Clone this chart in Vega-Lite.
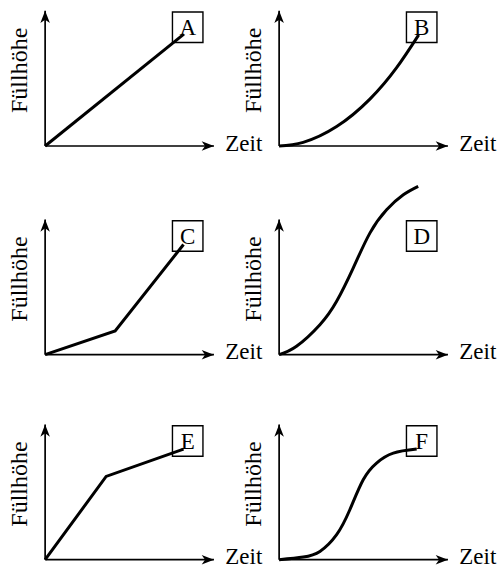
{
  "$schema": "https://vega.github.io/schema/vega-lite/v6.json",
  "padding": 0,
  "config": {"view": {"stroke": null}, "text": {"font": "Liberation Serif", "fontSize": 23, "color": "black"}},
  "datasets": {"all": [
    {"panel": "A", "kind": "axis", "axis": "Zeit", "x": 0, "y": 0, "x2": 10.1, "y2": 0},
    {"panel": "A", "kind": "axis", "axis": "Füllhöhe", "x": 0, "y": 0, "x2": 0, "y2": 10.1},
    {"panel": "B", "kind": "axis", "axis": "Zeit", "x": 0, "y": 0, "x2": 10.1, "y2": 0},
    {"panel": "B", "kind": "axis", "axis": "Füllhöhe", "x": 0, "y": 0, "x2": 0, "y2": 10.1},
    {"panel": "C", "kind": "axis", "axis": "Zeit", "x": 0, "y": 0, "x2": 10.1, "y2": 0},
    {"panel": "C", "kind": "axis", "axis": "Füllhöhe", "x": 0, "y": 0, "x2": 0, "y2": 10.1},
    {"panel": "D", "kind": "axis", "axis": "Zeit", "x": 0, "y": 0, "x2": 10.1, "y2": 0},
    {"panel": "D", "kind": "axis", "axis": "Füllhöhe", "x": 0, "y": 0, "x2": 0, "y2": 10.1},
    {"panel": "E", "kind": "axis", "axis": "Zeit", "x": 0, "y": 0, "x2": 10.1, "y2": 0},
    {"panel": "E", "kind": "axis", "axis": "Füllhöhe", "x": 0, "y": 0, "x2": 0, "y2": 10.1},
    {"panel": "F", "kind": "axis", "axis": "Zeit", "x": 0, "y": 0, "x2": 10.1, "y2": 0},
    {"panel": "F", "kind": "axis", "axis": "Füllhöhe", "x": 0, "y": 0, "x2": 0, "y2": 10.1},
    {"panel": "A", "kind": "xlab", "x": 10.78, "y": -0.35, "label": "Zeit"},
    {"panel": "B", "kind": "xlab", "x": 10.78, "y": -0.35, "label": "Zeit"},
    {"panel": "C", "kind": "xlab", "x": 10.78, "y": -0.35, "label": "Zeit"},
    {"panel": "D", "kind": "xlab", "x": 10.78, "y": -0.35, "label": "Zeit"},
    {"panel": "E", "kind": "xlab", "x": 10.78, "y": -0.35, "label": "Zeit"},
    {"panel": "F", "kind": "xlab", "x": 10.78, "y": -0.35, "label": "Zeit"},
    {"panel": "A", "kind": "ylab", "x": -1.1, "y": 5.65, "label": "Füllhöhe"},
    {"panel": "B", "kind": "ylab", "x": -1.1, "y": 5.65, "label": "Füllhöhe"},
    {"panel": "C", "kind": "ylab", "x": -1.1, "y": 5.65, "label": "Füllhöhe"},
    {"panel": "D", "kind": "ylab", "x": -1.1, "y": 5.65, "label": "Füllhöhe"},
    {"panel": "E", "kind": "ylab", "x": -1.1, "y": 5.65, "label": "Füllhöhe"},
    {"panel": "F", "kind": "ylab", "x": -1.1, "y": 5.65, "label": "Füllhöhe"},
    {"panel": "A", "kind": "box", "x": 8.53, "y": 8.87, "label": "A"},
    {"panel": "B", "kind": "box", "x": 8.53, "y": 8.87, "label": "B"},
    {"panel": "C", "kind": "box", "x": 8.53, "y": 8.87, "label": "C"},
    {"panel": "D", "kind": "box", "x": 8.53, "y": 8.87, "label": "D"},
    {"panel": "E", "kind": "box", "x": 8.53, "y": 8.87, "label": "E"},
    {"panel": "F", "kind": "box", "x": 8.53, "y": 8.87, "label": "F"},
    {"panel": "A", "kind": "curve", "i": 0, "x": 0, "y": 0},
    {"panel": "A", "kind": "curve", "i": 1, "x": 8.3, "y": 8.35},
    {"panel": "B", "kind": "curve", "i": 0, "x": 0, "y": 0},
    {"panel": "B", "kind": "curve", "i": 1, "x": 1.44, "y": 0.27},
    {"panel": "B", "kind": "curve", "i": 2, "x": 3.44, "y": 1.45},
    {"panel": "B", "kind": "curve", "i": 3, "x": 5.43, "y": 3.5},
    {"panel": "B", "kind": "curve", "i": 4, "x": 7.03, "y": 5.85},
    {"panel": "B", "kind": "curve", "i": 5, "x": 8.35, "y": 8.3},
    {"panel": "C", "kind": "curve", "i": 0, "x": 0, "y": 0},
    {"panel": "C", "kind": "curve", "i": 1, "x": 4.19, "y": 1.77},
    {"panel": "C", "kind": "curve", "i": 2, "x": 8.28, "y": 8.23},
    {"panel": "D", "kind": "curve", "i": 0, "x": 0, "y": 0},
    {"panel": "D", "kind": "curve", "i": 1, "x": 1.04, "y": 0.63},
    {"panel": "D", "kind": "curve", "i": 2, "x": 2.44, "y": 2.24},
    {"panel": "D", "kind": "curve", "i": 3, "x": 3.44, "y": 3.99},
    {"panel": "D", "kind": "curve", "i": 4, "x": 4.43, "y": 6.47},
    {"panel": "D", "kind": "curve", "i": 5, "x": 5.43, "y": 9.08},
    {"panel": "D", "kind": "curve", "i": 6, "x": 6.43, "y": 10.82},
    {"panel": "D", "kind": "curve", "i": 7, "x": 7.43, "y": 11.94},
    {"panel": "D", "kind": "curve", "i": 8, "x": 8.32, "y": 12.57},
    {"panel": "E", "kind": "curve", "i": 0, "x": 0, "y": 0},
    {"panel": "E", "kind": "curve", "i": 1, "x": 3.65, "y": 6.22},
    {"panel": "E", "kind": "curve", "i": 2, "x": 8.28, "y": 8.26},
    {"panel": "F", "kind": "curve", "i": 0, "x": 0, "y": 0},
    {"panel": "F", "kind": "curve", "i": 1, "x": 1.44, "y": 0.2},
    {"panel": "F", "kind": "curve", "i": 2, "x": 2.44, "y": 0.62},
    {"panel": "F", "kind": "curve", "i": 3, "x": 3.44, "y": 1.87},
    {"panel": "F", "kind": "curve", "i": 4, "x": 4.23, "y": 3.73},
    {"panel": "F", "kind": "curve", "i": 5, "x": 5.03, "y": 5.97},
    {"panel": "F", "kind": "curve", "i": 6, "x": 5.83, "y": 7.22},
    {"panel": "F", "kind": "curve", "i": 7, "x": 6.83, "y": 7.96},
    {"panel": "F", "kind": "curve", "i": 8, "x": 8.23, "y": 8.26}
  ]},
  "data": {"name": "all"},
  "spacing": 0,
  "vconcat": [
    {"hconcat": [
      {"width": 234, "height": 180, "transform": [{"filter": "datum.panel === 'A'"}],
       "encoding": {"x": {"field": "x", "type": "quantitative", "scale": {"domain": [-2.7, 11.3], "nice": false, "zero": false}, "axis": null}, "y": {"field": "y", "type": "quantitative", "scale": {"domain": [-2.539, 10.904], "nice": false, "zero": false}, "axis": null}},
       "layer": [
        {"transform": [{"filter": "datum.kind === 'axis'"}], "mark": {"type": "rule", "color": "black", "strokeWidth": 1.7}, "encoding": {"x2": {"field": "x2"}, "y2": {"field": "y2"}}},
        {"transform": [{"filter": "datum.kind === 'axis'"}], "mark": {"type": "point", "filled": true, "fill": "black", "strokeWidth": 0, "opacity": 1, "size": 150}, "encoding": {"x": {"field": "x2", "type": "quantitative"}, "y": {"field": "y2", "type": "quantitative"}, "shape": {"field": "axis", "type": "nominal", "legend": null, "scale": {"domain": ["Zeit", "Füllhöhe"], "range": ["M0,0 L-2,-0.78 L-1.45,0 L-2,0.78 Z", "M0,0 L-0.78,2 L0,1.45 L0.78,2 Z"]}}}},
        {"transform": [{"filter": "datum.kind === 'curve'"}], "mark": {"type": "line", "color": "black", "strokeWidth": 3, "interpolate": "linear"}, "encoding": {"order": {"field": "i", "type": "quantitative"}}},
        {"transform": [{"filter": "datum.kind === 'box'"}], "mark": {"type": "point", "shape": "square", "filled": false, "stroke": "black", "strokeWidth": 1.4, "opacity": 1, "size": 930}},
        {"transform": [{"filter": "datum.kind === 'box'"}], "mark": {"type": "text", "align": "center", "baseline": "middle", "dy": 1}, "encoding": {"text": {"field": "label"}}},
        {"transform": [{"filter": "datum.kind === 'xlab'"}], "mark": {"type": "text", "align": "left", "baseline": "alphabetic"}, "encoding": {"text": {"field": "label"}}},
        {"transform": [{"filter": "datum.kind === 'ylab'"}], "mark": {"type": "text", "align": "center", "baseline": "alphabetic", "angle": 270, "fontSize": 24}, "encoding": {"text": {"field": "label"}}}
       ]},
      {"width": 234, "height": 180, "transform": [{"filter": "datum.panel === 'B'"}],
       "encoding": {"x": {"field": "x", "type": "quantitative", "scale": {"domain": [-2.7, 11.3], "nice": false, "zero": false}, "axis": null}, "y": {"field": "y", "type": "quantitative", "scale": {"domain": [-2.539, 10.904], "nice": false, "zero": false}, "axis": null}},
       "layer": [
        {"transform": [{"filter": "datum.kind === 'axis'"}], "mark": {"type": "rule", "color": "black", "strokeWidth": 1.7}, "encoding": {"x2": {"field": "x2"}, "y2": {"field": "y2"}}},
        {"transform": [{"filter": "datum.kind === 'axis'"}], "mark": {"type": "point", "filled": true, "fill": "black", "strokeWidth": 0, "opacity": 1, "size": 150}, "encoding": {"x": {"field": "x2", "type": "quantitative"}, "y": {"field": "y2", "type": "quantitative"}, "shape": {"field": "axis", "type": "nominal", "legend": null, "scale": {"domain": ["Zeit", "Füllhöhe"], "range": ["M0,0 L-2,-0.78 L-1.45,0 L-2,0.78 Z", "M0,0 L-0.78,2 L0,1.45 L0.78,2 Z"]}}}},
        {"transform": [{"filter": "datum.kind === 'curve'"}], "mark": {"type": "line", "color": "black", "strokeWidth": 3, "interpolate": "natural"}, "encoding": {"order": {"field": "i", "type": "quantitative"}}},
        {"transform": [{"filter": "datum.kind === 'box'"}], "mark": {"type": "point", "shape": "square", "filled": false, "stroke": "black", "strokeWidth": 1.4, "opacity": 1, "size": 930}},
        {"transform": [{"filter": "datum.kind === 'box'"}], "mark": {"type": "text", "align": "center", "baseline": "middle", "dy": 1}, "encoding": {"text": {"field": "label"}}},
        {"transform": [{"filter": "datum.kind === 'xlab'"}], "mark": {"type": "text", "align": "left", "baseline": "alphabetic"}, "encoding": {"text": {"field": "label"}}},
        {"transform": [{"filter": "datum.kind === 'ylab'"}], "mark": {"type": "text", "align": "center", "baseline": "alphabetic", "angle": 270, "fontSize": 24}, "encoding": {"text": {"field": "label"}}}
       ]}
    ], "spacing": 0, "bounds": "flush"},
    {"hconcat": [
      {"width": 234, "height": 231, "transform": [{"filter": "datum.panel === 'C'"}],
       "encoding": {"x": {"field": "x", "type": "quantitative", "scale": {"domain": [-2.7, 11.3], "nice": false, "zero": false}, "axis": null}, "y": {"field": "y", "type": "quantitative", "scale": {"domain": [-4.429, 12.823], "nice": false, "zero": false}, "axis": null}},
       "layer": [
        {"transform": [{"filter": "datum.kind === 'axis'"}], "mark": {"type": "rule", "color": "black", "strokeWidth": 1.7}, "encoding": {"x2": {"field": "x2"}, "y2": {"field": "y2"}}},
        {"transform": [{"filter": "datum.kind === 'axis'"}], "mark": {"type": "point", "filled": true, "fill": "black", "strokeWidth": 0, "opacity": 1, "size": 150}, "encoding": {"x": {"field": "x2", "type": "quantitative"}, "y": {"field": "y2", "type": "quantitative"}, "shape": {"field": "axis", "type": "nominal", "legend": null, "scale": {"domain": ["Zeit", "Füllhöhe"], "range": ["M0,0 L-2,-0.78 L-1.45,0 L-2,0.78 Z", "M0,0 L-0.78,2 L0,1.45 L0.78,2 Z"]}}}},
        {"transform": [{"filter": "datum.kind === 'curve'"}], "mark": {"type": "line", "color": "black", "strokeWidth": 3, "interpolate": "linear"}, "encoding": {"order": {"field": "i", "type": "quantitative"}}},
        {"transform": [{"filter": "datum.kind === 'box'"}], "mark": {"type": "point", "shape": "square", "filled": false, "stroke": "black", "strokeWidth": 1.4, "opacity": 1, "size": 930}},
        {"transform": [{"filter": "datum.kind === 'box'"}], "mark": {"type": "text", "align": "center", "baseline": "middle", "dy": 1}, "encoding": {"text": {"field": "label"}}},
        {"transform": [{"filter": "datum.kind === 'xlab'"}], "mark": {"type": "text", "align": "left", "baseline": "alphabetic"}, "encoding": {"text": {"field": "label"}}},
        {"transform": [{"filter": "datum.kind === 'ylab'"}], "mark": {"type": "text", "align": "center", "baseline": "alphabetic", "angle": 270, "fontSize": 24}, "encoding": {"text": {"field": "label"}}}
       ]},
      {"width": 234, "height": 231, "transform": [{"filter": "datum.panel === 'D'"}],
       "encoding": {"x": {"field": "x", "type": "quantitative", "scale": {"domain": [-2.7, 11.3], "nice": false, "zero": false}, "axis": null}, "y": {"field": "y", "type": "quantitative", "scale": {"domain": [-4.429, 12.823], "nice": false, "zero": false}, "axis": null}},
       "layer": [
        {"transform": [{"filter": "datum.kind === 'axis'"}], "mark": {"type": "rule", "color": "black", "strokeWidth": 1.7}, "encoding": {"x2": {"field": "x2"}, "y2": {"field": "y2"}}},
        {"transform": [{"filter": "datum.kind === 'axis'"}], "mark": {"type": "point", "filled": true, "fill": "black", "strokeWidth": 0, "opacity": 1, "size": 150}, "encoding": {"x": {"field": "x2", "type": "quantitative"}, "y": {"field": "y2", "type": "quantitative"}, "shape": {"field": "axis", "type": "nominal", "legend": null, "scale": {"domain": ["Zeit", "Füllhöhe"], "range": ["M0,0 L-2,-0.78 L-1.45,0 L-2,0.78 Z", "M0,0 L-0.78,2 L0,1.45 L0.78,2 Z"]}}}},
        {"transform": [{"filter": "datum.kind === 'curve'"}], "mark": {"type": "line", "color": "black", "strokeWidth": 3, "interpolate": "natural"}, "encoding": {"order": {"field": "i", "type": "quantitative"}}},
        {"transform": [{"filter": "datum.kind === 'box'"}], "mark": {"type": "point", "shape": "square", "filled": false, "stroke": "black", "strokeWidth": 1.4, "opacity": 1, "size": 930}},
        {"transform": [{"filter": "datum.kind === 'box'"}], "mark": {"type": "text", "align": "center", "baseline": "middle", "dy": 1}, "encoding": {"text": {"field": "label"}}},
        {"transform": [{"filter": "datum.kind === 'xlab'"}], "mark": {"type": "text", "align": "left", "baseline": "alphabetic"}, "encoding": {"text": {"field": "label"}}},
        {"transform": [{"filter": "datum.kind === 'ylab'"}], "mark": {"type": "text", "align": "center", "baseline": "alphabetic", "angle": 270, "fontSize": 24}, "encoding": {"text": {"field": "label"}}}
       ]}
    ], "spacing": 0, "bounds": "flush"},
    {"hconcat": [
      {"width": 234, "height": 159, "transform": [{"filter": "datum.panel === 'E'"}],
       "encoding": {"x": {"field": "x", "type": "quantitative", "scale": {"domain": [-2.7, 11.3], "nice": false, "zero": false}, "axis": null}, "y": {"field": "y", "type": "quantitative", "scale": {"domain": [-0.993, 10.881], "nice": false, "zero": false}, "axis": null}},
       "layer": [
        {"transform": [{"filter": "datum.kind === 'axis'"}], "mark": {"type": "rule", "color": "black", "strokeWidth": 1.7}, "encoding": {"x2": {"field": "x2"}, "y2": {"field": "y2"}}},
        {"transform": [{"filter": "datum.kind === 'axis'"}], "mark": {"type": "point", "filled": true, "fill": "black", "strokeWidth": 0, "opacity": 1, "size": 150}, "encoding": {"x": {"field": "x2", "type": "quantitative"}, "y": {"field": "y2", "type": "quantitative"}, "shape": {"field": "axis", "type": "nominal", "legend": null, "scale": {"domain": ["Zeit", "Füllhöhe"], "range": ["M0,0 L-2,-0.78 L-1.45,0 L-2,0.78 Z", "M0,0 L-0.78,2 L0,1.45 L0.78,2 Z"]}}}},
        {"transform": [{"filter": "datum.kind === 'curve'"}], "mark": {"type": "line", "color": "black", "strokeWidth": 3, "interpolate": "linear"}, "encoding": {"order": {"field": "i", "type": "quantitative"}}},
        {"transform": [{"filter": "datum.kind === 'box'"}], "mark": {"type": "point", "shape": "square", "filled": false, "stroke": "black", "strokeWidth": 1.4, "opacity": 1, "size": 930}},
        {"transform": [{"filter": "datum.kind === 'box'"}], "mark": {"type": "text", "align": "center", "baseline": "middle", "dy": 1}, "encoding": {"text": {"field": "label"}}},
        {"transform": [{"filter": "datum.kind === 'xlab'"}], "mark": {"type": "text", "align": "left", "baseline": "alphabetic"}, "encoding": {"text": {"field": "label"}}},
        {"transform": [{"filter": "datum.kind === 'ylab'"}], "mark": {"type": "text", "align": "center", "baseline": "alphabetic", "angle": 270, "fontSize": 24}, "encoding": {"text": {"field": "label"}}}
       ]},
      {"width": 234, "height": 159, "transform": [{"filter": "datum.panel === 'F'"}],
       "encoding": {"x": {"field": "x", "type": "quantitative", "scale": {"domain": [-2.7, 11.3], "nice": false, "zero": false}, "axis": null}, "y": {"field": "y", "type": "quantitative", "scale": {"domain": [-0.993, 10.881], "nice": false, "zero": false}, "axis": null}},
       "layer": [
        {"transform": [{"filter": "datum.kind === 'axis'"}], "mark": {"type": "rule", "color": "black", "strokeWidth": 1.7}, "encoding": {"x2": {"field": "x2"}, "y2": {"field": "y2"}}},
        {"transform": [{"filter": "datum.kind === 'axis'"}], "mark": {"type": "point", "filled": true, "fill": "black", "strokeWidth": 0, "opacity": 1, "size": 150}, "encoding": {"x": {"field": "x2", "type": "quantitative"}, "y": {"field": "y2", "type": "quantitative"}, "shape": {"field": "axis", "type": "nominal", "legend": null, "scale": {"domain": ["Zeit", "Füllhöhe"], "range": ["M0,0 L-2,-0.78 L-1.45,0 L-2,0.78 Z", "M0,0 L-0.78,2 L0,1.45 L0.78,2 Z"]}}}},
        {"transform": [{"filter": "datum.kind === 'curve'"}], "mark": {"type": "line", "color": "black", "strokeWidth": 3, "interpolate": "natural"}, "encoding": {"order": {"field": "i", "type": "quantitative"}}},
        {"transform": [{"filter": "datum.kind === 'box'"}], "mark": {"type": "point", "shape": "square", "filled": false, "stroke": "black", "strokeWidth": 1.4, "opacity": 1, "size": 930}},
        {"transform": [{"filter": "datum.kind === 'box'"}], "mark": {"type": "text", "align": "center", "baseline": "middle", "dy": 1}, "encoding": {"text": {"field": "label"}}},
        {"transform": [{"filter": "datum.kind === 'xlab'"}], "mark": {"type": "text", "align": "left", "baseline": "alphabetic"}, "encoding": {"text": {"field": "label"}}},
        {"transform": [{"filter": "datum.kind === 'ylab'"}], "mark": {"type": "text", "align": "center", "baseline": "alphabetic", "angle": 270, "fontSize": 24}, "encoding": {"text": {"field": "label"}}}
       ]}
    ], "spacing": 0, "bounds": "flush"}
  ]
}
